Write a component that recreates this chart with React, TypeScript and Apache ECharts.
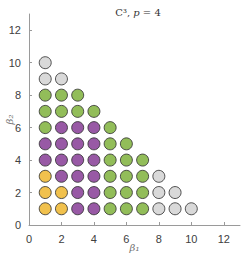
import React, { useEffect, useRef } from "react";
import * as echarts from "echarts";

const xTicks = [0, 2, 4, 6, 8, 10, 12];
const yellowPts: [number, number][] = [[1, 1], [2, 1], [1, 2], [2, 2], [1, 3]];
const purplePts: [number, number][] = [
  [3, 1], [4, 1], [3, 2], [4, 2], [2, 3], [3, 3], [4, 3],
  [1, 4], [2, 4], [3, 4], [4, 4], [1, 5], [2, 5], [3, 5], [4, 5],
  [2, 6], [3, 6], [4, 6],
];
const greenPts: [number, number][] = [
  [5, 1], [6, 1], [7, 1], [5, 2], [6, 2], [7, 2], [5, 3], [6, 3], [7, 3],
  [5, 4], [6, 4], [7, 4], [5, 5], [6, 5], [1, 6], [5, 6],
  [1, 7], [2, 7], [3, 7], [4, 7], [1, 8], [2, 8], [3, 8],
];
const grayPts: [number, number][] = [
  [8, 1], [9, 1], [10, 1], [8, 2], [9, 2], [8, 3], [1, 9], [2, 9], [1, 10],
];

export default function App() {
  const ref = useRef<HTMLDivElement>(null);
  useEffect(() => {
    const chart = echarts.init(ref.current!, null, { renderer: "svg" });
    const axisCommon = {
      min: 0,
      max: 13,
      interval: 2,
      nameMoveOverlap: false,
      axisLine: { show: true, lineStyle: { color: "#9a9a9a", width: 1 } },
      axisTick: { show: true, inside: true, length: 3, lineStyle: { color: "#9a9a9a" } },
      splitLine: { show: false },
      axisLabel: {
        color: "#404040",
        fontSize: 11,
        fontFamily: "Liberation Sans, Arial, sans-serif",
        showMaxLabel: false,
        formatter: (v: number) => (xTicks.includes(v) ? String(v) : ""),
      },
      nameTextStyle: {
        fontFamily: "DejaVu Serif, serif",
        fontStyle: "italic",
        fontSize: 10,
        color: "#707070",
      },
    };
    const mk = (data: [number, number][], color: string) => ({
      type: "scatter",
      data,
      symbolSize: 12,
      itemStyle: { color, borderColor: "#2b2b2b", borderWidth: 1 },
    });
    chart.setOption({
      animation: false,
      title: {
        text: "{a|C³, }{b|p}{a| = 4}",
        left: 133,
        textAlign: "center",
        top: 2,
        textStyle: {
          fontWeight: "normal",
          rich: {
            a: { fontFamily: "DejaVu Serif, serif", fontSize: 10, fontWeight: "normal", color: "#333" },
            b: { fontFamily: "DejaVu Serif, serif", fontSize: 10, fontWeight: "normal", fontStyle: "italic", color: "#333" },
          },
        },
      },
      grid: { left: 29, right: 1, top: 14, bottom: 28, outerBoundsMode: "none", containLabel: false },
      xAxis: {
        ...axisCommon,
        type: "value",
        name: "β₁",
        nameLocation: "middle",
        nameGap: 17,
      },
      yAxis: {
        ...axisCommon,
        type: "value",
        name: "β₂",
        nameLocation: "middle",
        nameGap: 15,
      },
      series: [
        mk(yellowPts, "#edb120"),
        mk(purplePts, "#7e2f8e"),
        mk(greenPts, "#77ac30"),
        mk(grayPts, "#d0d0d0"),
      ],
    });
    return () => chart.dispose();
  }, []);
  return (
    <div
      ref={ref}
      style={{ position: "fixed", left: 0, top: 0, width: 241, height: 253, background: "#fff" }}
    />
  );
}
